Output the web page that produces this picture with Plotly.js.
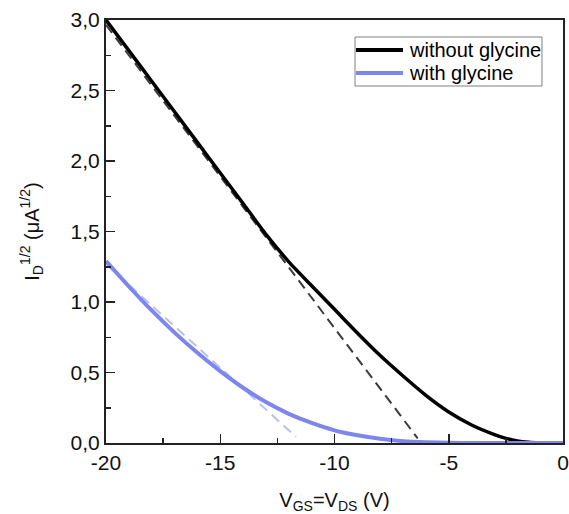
<!DOCTYPE html>
<html>
<head>
<meta charset="utf-8">
<script src="https://cdn.plot.ly/plotly-3.0.1.min.js"></script>
<style>html,body{margin:0;padding:0;background:#fff;}#chart{width:569px;height:514px;}</style>
</head>
<body>
<div id="chart"></div>
<script>
// Measured curves
const vgsWithout = [-20, -19, -18, -17, -16, -15, -14, -13, -12, -11, -10, -9, -8, -7, -6, -5, -4, -3, -2.5, -2, -1.5, -1, -0.5, 0];
const sqrtIdWithout = [3.00, 2.783, 2.566, 2.349, 2.132, 1.915, 1.698, 1.48, 1.285, 1.115, 0.948, 0.78, 0.62, 0.475, 0.338, 0.22, 0.128, 0.06, 0.033, 0.015, 0.006, 0.002, 0, 0];

const vgsWith = [-20, -19, -18, -17, -16, -15, -14, -13, -12, -11, -10, -9, -8, -7, -6, -5, -4, 0];
const sqrtIdWith = [1.29, 1.11, 0.94, 0.783, 0.64, 0.51, 0.392, 0.29, 0.207, 0.142, 0.09, 0.055, 0.03, 0.013, 0.005, 0.001, 0, 0];

// Linear fits (dashed)
const fitWithoutX = [-20, -6.36];
const fitWithoutY = [2.965, 0.033];
const fitWithX = [-20, -11.69];
const fitWithY = [1.27, 0.045];

const seriesNames = ['without glycine', 'with glycine'];
const seriesColors = ['#000000', '#7c86ee'];

const xTickVals = [-20, -15, -10, -5, 0];
const yTickVals = [0, 0.5, 1.0, 1.5, 2.0, 2.5, 3.0];

const traces = [
  {x: fitWithoutX, y: fitWithoutY, mode: 'lines', showlegend: false, hoverinfo: 'skip',
   line: {color: '#3a3a3a', width: 2, dash: '10px,6px'}},
  {x: fitWithX, y: fitWithY, mode: 'lines', showlegend: false, hoverinfo: 'skip',
   line: {color: '#b9bff4', width: 2, dash: '10px,6px'}},
  {x: vgsWithout, y: sqrtIdWithout, mode: 'lines', name: seriesNames[0], showlegend: false,
   line: {color: seriesColors[0], width: 3.5, shape: 'spline', smoothing: 0.5}},
  {x: vgsWith, y: sqrtIdWith, mode: 'lines', name: seriesNames[1], showlegend: false,
   line: {color: seriesColors[1], width: 4, shape: 'spline', smoothing: 0.5}}
];

const FAM = 'Liberation Sans, Arial, sans-serif';

// Legend box drawn in paper coordinates
const legX0 = 0.5449, legX1 = 0.954, legY0 = 0.844, legY1 = 0.9598;
const legLineX0 = 0.547, legLineX1 = 0.6499, legTextX = 0.659;
const legRowY = [0.929, 0.8747];

const shapes = [
  {type: 'rect', xref: 'paper', yref: 'paper', x0: legX0, x1: legX1, y0: legY0, y1: legY1,
   line: {color: '#808080', width: 1}, fillcolor: '#ffffff', layer: 'above'}
];
const annotations = [];
seriesNames.forEach((nm, i) => {
  shapes.push({type: 'line', xref: 'paper', yref: 'paper', x0: legLineX0, x1: legLineX1,
    y0: legRowY[i], y1: legRowY[i], line: {color: seriesColors[i], width: 4}, layer: 'above'});
  annotations.push({xref: 'paper', yref: 'paper', x: legTextX, y: legRowY[i],
    xanchor: 'left', yanchor: 'middle', showarrow: false, text: nm,
    font: {family: FAM, size: 20, color: '#000'}});
});

const layout = {
  width: 569, height: 514,
  margin: {l: 106, r: 6, t: 20, b: 71},
  paper_bgcolor: '#fff', plot_bgcolor: '#fff',
  separators: ', ',
  font: {family: FAM, color: '#111', size: 19},
  showlegend: false,
  shapes: shapes,
  annotations: annotations,
  xaxis: {
    range: [-20, 0], tickvals: xTickVals, ticktext: xTickVals.map(String),
    ticks: 'inside', ticklen: 9, tickwidth: 1.5, tickcolor: '#222',
    minor: {dtick: 2.5, ticks: 'inside', ticklen: 5, tickwidth: 1.5, tickcolor: '#222'},
    showline: true, linecolor: '#222', linewidth: 2, mirror: true,
    showgrid: false, zeroline: false, ticklabeloverflow: 'allow',
    tickfont: {size: 21, family: FAM, color: '#111'},
    title: {text: 'V<sub>GS</sub>=V<sub>DS</sub> (V)', standoff: 20,
            font: {size: 20, family: FAM, color: '#111'}}
  },
  yaxis: {
    range: [0, 3.0], tickvals: yTickVals, tickformat: '.1f',
    ticks: 'inside', ticklen: 9, tickwidth: 1.5, tickcolor: '#222',
    minor: {dtick: 0.25, ticks: 'inside', ticklen: 5, tickwidth: 1.5, tickcolor: '#222'},
    showline: true, linecolor: '#222', linewidth: 2, mirror: true,
    showgrid: false, zeroline: false, ticklabeloverflow: 'allow',
    tickfont: {size: 21, family: FAM, color: '#111'},
    title: {text: 'I<sub>D</sub><sup>1/2</sup> (μA<sup>1/2</sup>)', standoff: 26,
            font: {size: 20, family: FAM, color: '#111'}}
  }
};

Plotly.newPlot('chart', traces, layout, {displayModeBar: false, staticPlot: true});
</script>
</body>
</html>
